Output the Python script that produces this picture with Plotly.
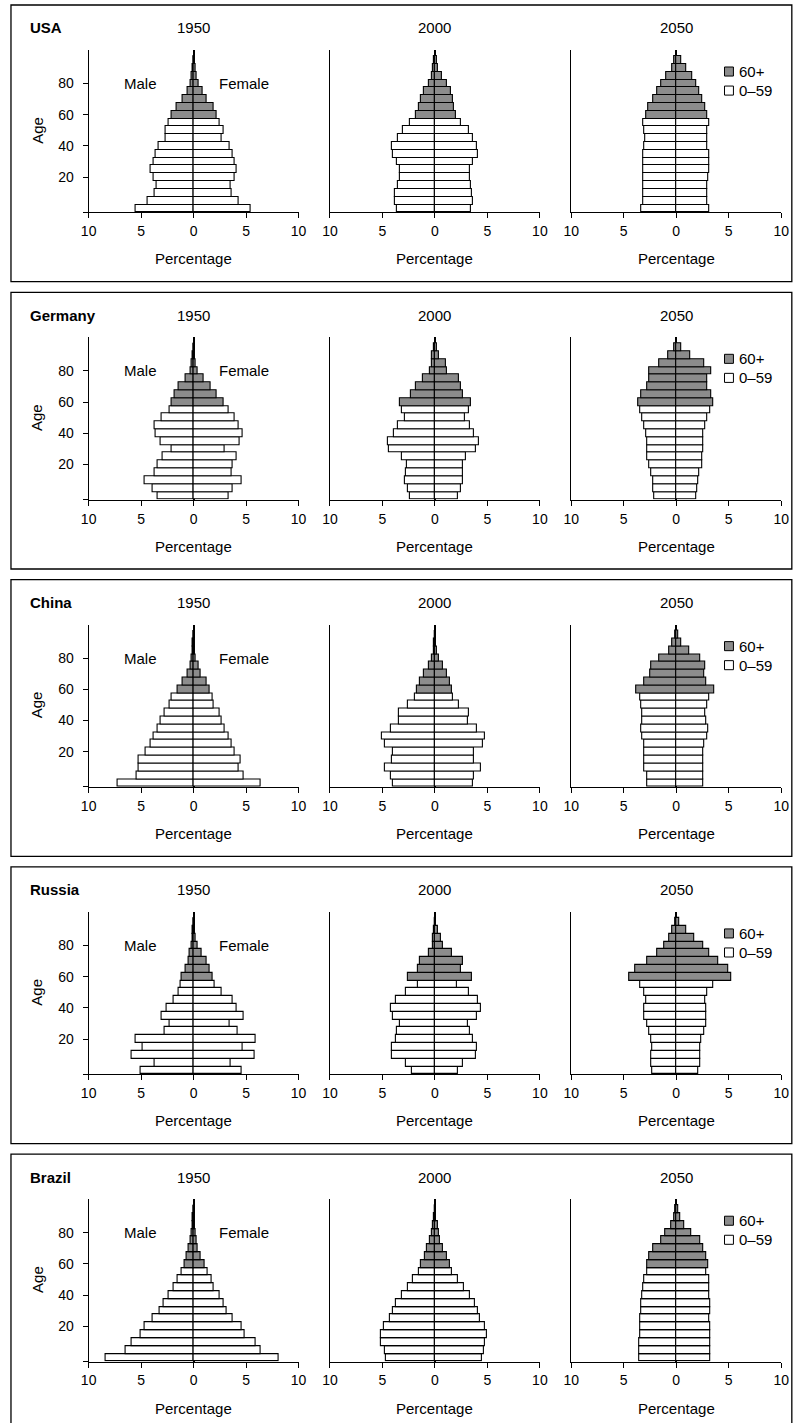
import plotly.graph_objects as go

# ---------------------------------------------------------------------------
# Data: share of total population (%) by five-year age group, male / female
# ---------------------------------------------------------------------------
AGE_GROUPS = list(range(0, 100, 5))          # lower bound of each age group
OLD_AGE = 60                                 # groups from here on are "60+"
COUNTRIES = ["USA", "Germany", "China", "Russia", "Brazil"]
YEARS = ["1950", "2000", "2050"]
SEX_LABELS = ["Male", "Female"]
LEGEND_LABELS = ["60+", "0–59"]
X_TICKS = [-10, -5, 0, 5, 10]
X_TICK_TEXT = ["10", "5", "0", "5", "10"]
Y_TICKS = [20, 40, 60, 80]

usa_1950_m = [5.5, 4.4, 3.7, 3.5, 3.85, 4.1, 3.8, 3.65, 3.3, 2.65, 2.7, 2.35, 2.05, 1.65, 1.0, 0.6, 0.3, 0.15, 0.08, 0.03]
usa_1950_f = [5.4, 4.3, 3.65, 3.5, 3.95, 4.1, 3.9, 3.75, 3.45, 2.7, 2.85, 2.5, 2.2, 1.9, 1.25, 0.9, 0.45, 0.3, 0.15, 0.06]
usa_2000_m = [3.6, 3.8, 3.8, 3.5, 3.3, 3.35, 3.6, 4.0, 4.1, 3.5, 3.0, 2.35, 1.8, 1.5, 1.3, 1.05, 0.6, 0.25, 0.15, 0.08]
usa_2000_f = [3.45, 3.65, 3.55, 3.45, 3.3, 3.3, 3.6, 4.05, 4.0, 3.6, 3.2, 2.5, 2.0, 1.8, 1.75, 1.55, 1.1, 0.65, 0.3, 0.2]
usa_2050_m = [3.3, 3.15, 3.15, 3.15, 3.1, 3.15, 3.1, 3.1, 3.0, 2.95, 3.0, 3.1, 2.9, 2.7, 2.2, 1.8, 1.4, 0.95, 0.4, 0.15]
usa_2050_f = [3.1, 3.0, 3.0, 3.0, 3.05, 3.15, 3.1, 3.1, 3.0, 2.95, 2.95, 3.1, 3.0, 2.8, 2.45, 2.15, 1.9, 1.55, 0.95, 0.45]

germany_1950_m = [3.45, 3.95, 4.7, 3.7, 3.45, 2.95, 2.05, 3.1, 3.6, 3.7, 3.05, 2.3, 2.1, 1.8, 1.4, 0.75, 0.25, 0.15, 0.05, 0.02]
germany_1950_f = [3.3, 3.7, 4.55, 3.6, 3.75, 4.1, 2.95, 4.4, 4.65, 4.3, 3.9, 3.35, 2.85, 2.2, 1.65, 1.0, 0.4, 0.2, 0.08, 0.03]
germany_2000_m = [2.4, 2.55, 2.9, 2.8, 2.7, 3.15, 4.35, 4.45, 3.95, 3.5, 2.9, 3.15, 3.3, 2.3, 1.8, 1.15, 0.5, 0.3, 0.25, 0.1]
germany_2000_f = [2.2, 2.45, 2.7, 2.7, 2.65, 2.95, 3.95, 4.2, 3.75, 3.35, 2.9, 3.2, 3.45, 2.65, 2.45, 2.3, 1.1, 1.05, 0.35, 0.15]
germany_2050_m = [2.1, 2.15, 2.2, 2.35, 2.55, 2.75, 2.75, 2.75, 2.85, 3.0, 3.25, 3.45, 3.6, 3.35, 2.75, 2.6, 2.6, 1.65, 0.75, 0.2]
germany_2050_f = [1.95, 2.0, 2.05, 2.15, 2.45, 2.5, 2.6, 2.6, 2.6, 2.75, 3.0, 3.2, 3.5, 3.35, 2.95, 2.95, 3.35, 2.65, 1.35, 0.5]

china_1950_m = [7.2, 5.4, 5.2, 5.2, 4.6, 4.1, 3.8, 3.4, 3.1, 2.8, 2.3, 2.1, 1.5, 1.0, 0.6, 0.3, 0.2, 0.1, 0.05, 0.02]
china_1950_f = [6.4, 4.8, 4.3, 4.5, 3.9, 3.6, 3.3, 3.0, 2.7, 2.5, 1.9, 1.8, 1.5, 1.2, 0.7, 0.45, 0.2, 0.1, 0.05, 0.02]
china_2000_m = [4.0, 4.2, 4.8, 4.1, 4.0, 4.8, 5.0, 4.2, 3.4, 3.4, 2.6, 1.9, 1.7, 1.4, 1.0, 0.56, 0.26, 0.1, 0.05, 0.01]
china_2000_f = [3.6, 3.7, 4.4, 3.7, 3.7, 4.6, 4.8, 4.0, 3.1, 3.2, 2.3, 1.7, 1.6, 1.4, 1.1, 0.8, 0.4, 0.2, 0.08, 0.02]
china_2050_m = [2.75, 2.8, 3.0, 3.0, 3.0, 3.0, 3.2, 3.35, 3.2, 3.2, 3.3, 3.45, 3.8, 3.0, 2.5, 2.35, 1.6, 0.65, 0.35, 0.1]
china_2050_f = [2.6, 2.6, 2.6, 2.6, 2.6, 2.7, 3.0, 3.05, 2.9, 2.8, 3.0, 3.1, 3.6, 2.9, 2.7, 2.8, 2.3, 1.25, 0.5, 0.2]

russia_1950_m = [5.0, 3.7, 5.9, 4.9, 5.5, 2.8, 2.3, 3.0, 2.6, 1.9, 1.4, 1.2, 1.1, 0.8, 0.5, 0.4, 0.2, 0.1, 0.05, 0.02]
russia_1950_f = [4.6, 3.5, 5.8, 4.7, 5.9, 4.2, 3.4, 4.8, 4.1, 3.7, 2.7, 2.0, 1.85, 1.55, 1.2, 0.8, 0.35, 0.17, 0.08, 0.03]
russia_2000_m = [2.2, 2.8, 4.1, 4.1, 3.7, 3.6, 3.3, 4.0, 4.2, 3.7, 2.8, 1.6, 2.55, 1.65, 1.4, 0.55, 0.2, 0.17, 0.08, 0.03]
russia_2000_f = [2.15, 2.7, 3.9, 4.0, 3.6, 3.35, 3.15, 4.0, 4.35, 4.05, 3.2, 2.05, 3.5, 2.45, 2.7, 1.65, 0.75, 0.55, 0.25, 0.1]
russia_2050_m = [2.3, 2.4, 2.4, 2.3, 2.4, 2.6, 2.8, 3.0, 3.0, 2.9, 3.0, 3.45, 4.5, 3.95, 2.75, 1.85, 1.1, 0.65, 0.35, 0.13]
russia_2050_f = [2.1, 2.25, 2.25, 2.25, 2.35, 2.65, 2.85, 2.85, 2.85, 2.8, 3.0, 3.5, 5.2, 4.95, 4.0, 3.15, 2.6, 1.75, 0.95, 0.25]

brazil_1950_m = [8.4, 6.5, 5.9, 5.0, 4.65, 3.9, 3.2, 2.85, 2.4, 1.95, 1.55, 1.1, 0.9, 0.7, 0.43, 0.3, 0.17, 0.1, 0.05, 0.03]
brazil_1950_f = [8.1, 6.4, 5.9, 4.9, 4.55, 3.75, 3.1, 2.85, 2.45, 1.9, 1.75, 1.35, 1.05, 0.7, 0.43, 0.3, 0.17, 0.1, 0.06, 0.03]
brazil_2000_m = [4.7, 4.8, 5.1, 5.15, 4.9, 4.25, 4.0, 3.7, 3.15, 2.6, 2.05, 1.55, 1.3, 0.95, 0.75, 0.45, 0.26, 0.15, 0.08, 0.03]
brazil_2000_f = [4.5, 4.65, 4.8, 5.0, 4.8, 4.3, 4.05, 3.85, 3.3, 2.75, 2.15, 1.65, 1.4, 1.1, 0.8, 0.5, 0.4, 0.25, 0.12, 0.05]
brazil_2050_m = [3.5, 3.5, 3.5, 3.45, 3.45, 3.4, 3.35, 3.3, 3.2, 3.15, 3.0, 2.8, 2.8, 2.6, 2.15, 1.45, 1.0, 0.45, 0.2, 0.1]
brazil_2050_f = [3.2, 3.2, 3.2, 3.2, 3.2, 3.1, 3.25, 3.25, 3.1, 3.1, 3.1, 2.9, 3.05, 2.9, 2.6, 2.25, 1.4, 0.8, 0.4, 0.2]

PYRAMIDS = {
    "USA": [(usa_1950_m, usa_1950_f), (usa_2000_m, usa_2000_f), (usa_2050_m, usa_2050_f)],
    "Germany": [(germany_1950_m, germany_1950_f), (germany_2000_m, germany_2000_f), (germany_2050_m, germany_2050_f)],
    "China": [(china_1950_m, china_1950_f), (china_2000_m, china_2000_f), (china_2050_m, china_2050_f)],
    "Russia": [(russia_1950_m, russia_1950_f), (russia_2000_m, russia_2000_f), (russia_2050_m, russia_2050_f)],
    "Brazil": [(brazil_1950_m, brazil_1950_f), (brazil_2000_m, brazil_2000_f), (brazil_2050_m, brazil_2050_f)],
}

# ---------------------------------------------------------------------------
# Page geometry (pixels) and styling
# ---------------------------------------------------------------------------
W, H = 801, 1423
GRID_X0, GRID_W = 2.0, 791.5             # horizontal placement grid
ROW_PITCH = 287.3
COL_PITCH = 243.3
AX_LEFT, AX_RIGHT = 83.3, 295.0          # first column plot area
AX_TOP, AX_BOTTOM = 50.0, 212.3          # first row plot area
BOX_LEFT, BOX_TOP, BOX_BOTTOM = 5.0, 5.0, 281.7
Y_RANGE = [-2.5, 101.5]
X_RANGE = [-10, 10]

FONT = "Liberation Sans, Arial, Helvetica, sans-serif"
TEXT_SIZE = 15
TICK_SIZE = 14
GREY = "#8c8c8c"
WHITE = "#ffffff"
INK = "#000000"


def fx(px):
    return (px - GRID_X0) / GRID_W


def fy(py):
    return 1 - py / H


def text_font(size=TEXT_SIZE):
    return dict(size=size, family=FONT, color=INK)


fig = go.Figure()
annotations = []
shapes = []
layout_axes = {}

for r, country in enumerate(COUNTRIES):
    dy = r * ROW_PITCH
    # frame around each country's row (open at the right-hand page edge)
    shapes.append(dict(type="rect", xref="paper", yref="paper",
                       x0=fx(BOX_LEFT), x1=0.9985,
                       y0=fy(BOX_BOTTOM + dy), y1=fy(BOX_TOP + dy),
                       line=dict(color=INK, width=1.3), fillcolor="rgba(0,0,0,0)",
                       layer="below"))
    annotations.append(dict(text=f"<b>{country}</b>", xref="paper", yref="paper",
                            x=fx(22), y=fy(28 + dy), xanchor="left", yanchor="middle",
                            showarrow=False, font=text_font()))
    annotations.append(dict(text="Age", xref="paper", yref="paper",
                            x=fx(31), y=fy(130 + dy), xanchor="center", yanchor="middle",
                            textangle=-90, showarrow=False, font=text_font()))

    for c, year in enumerate(YEARS):
        n = r * 3 + c + 1
        xa = "x" if n == 1 else f"x{n}"
        ya = "y" if n == 1 else f"y{n}"
        dx = c * COL_PITCH
        male, female = PYRAMIDS[country][c]

        young_ages = [a for a in AGE_GROUPS if a < OLD_AGE]
        old_ages = [a for a in AGE_GROUPS if a >= OLD_AGE]
        for ages, colour, label in [(young_ages, WHITE, LEGEND_LABELS[1]),
                                    (old_ages, GREY, LEGEND_LABELS[0])]:
            idx = [AGE_GROUPS.index(a) for a in ages]
            fig.add_trace(go.Bar(
                y=ages, x=[-male[i] for i in idx], orientation="h", width=5,
                marker=dict(color=colour, line=dict(color=INK, width=1.1)),
                name=f"{SEX_LABELS[0]} {label}", showlegend=False,
                customdata=[male[i] for i in idx],
                hovertemplate=f"{country} {year}<br>{SEX_LABELS[0]}, age %{{y}}: %{{customdata}}%<extra></extra>",
                xaxis=xa, yaxis=ya))
            fig.add_trace(go.Bar(
                y=ages, x=[female[i] for i in idx], orientation="h", width=5,
                marker=dict(color=colour, line=dict(color=INK, width=1.1)),
                name=f"{SEX_LABELS[1]} {label}", showlegend=False,
                hovertemplate=f"{country} {year}<br>{SEX_LABELS[1]}, age %{{y}}: %{{x}}%<extra></extra>",
                xaxis=xa, yaxis=ya))

        first_col = c == 0
        layout_axes["xaxis" if n == 1 else f"xaxis{n}"] = dict(
            domain=[fx(AX_LEFT + dx), fx(AX_RIGHT + dx)],
            anchor=ya, range=X_RANGE, fixedrange=True,
            showline=True, linecolor=INK, linewidth=1.2,
            ticks="outside", ticklen=5, tickwidth=1.2, tickcolor=INK,
            tickvals=X_TICKS, ticktext=X_TICK_TEXT, ticklabelstandoff=1,
            tickfont=text_font(TICK_SIZE),
            showgrid=False, zeroline=True, zerolinecolor=INK, zerolinewidth=1.6,
        )
        layout_axes["yaxis" if n == 1 else f"yaxis{n}"] = dict(
            domain=[fy(AX_BOTTOM + dy), fy(AX_TOP + dy)],
            anchor=xa, range=Y_RANGE, fixedrange=True,
            showline=True, linecolor=INK, linewidth=1.2,
            ticks="outside" if first_col else "", ticklen=5, tickwidth=1.2, tickcolor=INK,
            tickvals=([Y_RANGE[0] + 0.1] + Y_TICKS) if first_col else [],
            ticktext=([""] + [str(t) for t in Y_TICKS]) if first_col else [],
            showticklabels=first_col, ticklabelstandoff=6,
            tickfont=text_font(TICK_SIZE),
            showgrid=False, zeroline=False,
        )

        # year heading and x-axis title
        cx = fx((AX_LEFT + AX_RIGHT) / 2 + dx)
        annotations.append(dict(text=year, xref="paper", yref="paper", x=cx, y=fy(28 + dy),
                                xanchor="center", yanchor="middle", showarrow=False,
                                font=text_font()))
        annotations.append(dict(text="Percentage", xref="paper", yref="paper", x=cx,
                                y=fy(259 + dy), xanchor="center", yanchor="middle",
                                showarrow=False, font=text_font()))

        if first_col:
            for sx, label in zip([-5.1, 4.8], SEX_LABELS):
                annotations.append(dict(text=label, xref=xa, yref=ya, x=sx, y=80,
                                        xanchor="center", yanchor="middle", showarrow=False,
                                        font=text_font()))

        if c == 2:
            # key: grey = 60+, white = 0-59
            for (y0, y1, ty), colour, label in zip([(84.8, 90.6, 87.7), (72.6, 78.4, 75.5)],
                                                    [GREY, WHITE], LEGEND_LABELS):
                shapes.append(dict(type="rect", xref=xa, yref=ya, x0=4.6, x1=5.45,
                                   y0=y0, y1=y1, fillcolor=colour,
                                   line=dict(color=INK, width=1)))
                annotations.append(dict(text=label, xref=xa, yref=ya, x=5.8, y=ty,
                                        xanchor="left", yanchor="middle", showarrow=False,
                                        font=text_font()))

fig.update_layout(
    width=W, height=H, autosize=False, margin=dict(l=0, r=0, t=0, b=0),
    paper_bgcolor="white", plot_bgcolor="white",
    barmode="overlay", bargap=0, showlegend=False,
    font=text_font(),
    annotations=annotations, shapes=shapes,
    **layout_axes,
)

fig.write_html("out.html")
